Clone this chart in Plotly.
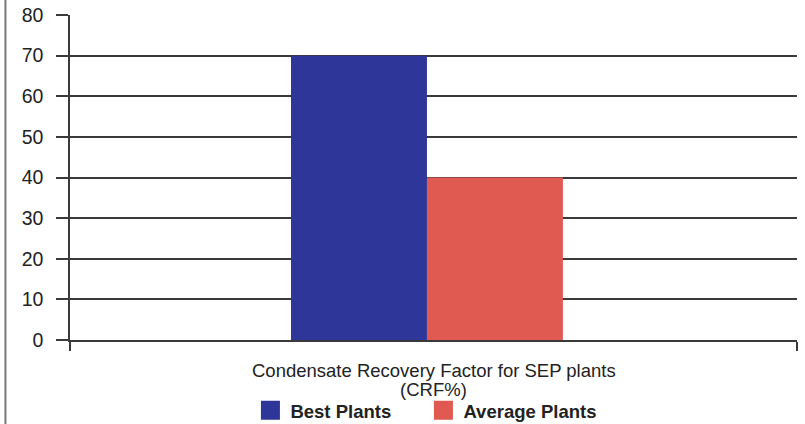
import plotly.graph_objects as go

# Chart data
category = ["Condensate Recovery Factor for SEP plants<br>(CRF%)"]
best_plants = [70]
average_plants = [40]
y_ticks = [0, 10, 20, 30, 40, 50, 60, 70, 80]

BLUE = "#2F3699"
RED = "#E05A52"
LINE = "#3a3a3a"
FONT = "Liberation Sans, Arial, sans-serif"

fig = go.Figure()
fig.add_trace(go.Bar(
    x=category, y=best_plants, name="Best Plants", showlegend=False,
    marker=dict(color=BLUE, line=dict(width=0)),
    width=0.187, offset=-0.196,
))
fig.add_trace(go.Bar(
    x=category, y=average_plants, name="Average Plants", showlegend=False,
    marker=dict(color=RED, line=dict(width=0)),
    width=0.187, offset=-0.009,
))

# Legend entries with larger square swatches (outline in the same colour adds size)
for name, color in [("Best Plants", BLUE), ("Average Plants", RED)]:
    fig.add_trace(go.Scatter(
        x=[None], y=[None], mode="markers", name=name,
        marker=dict(symbol="square", size=16, color=color, line=dict(color=color, width=3)),
    ))

fig.update_layout(
    width=805, height=424,
    margin=dict(l=70, r=8, t=15, b=84, autoexpand=False),
    paper_bgcolor="white", plot_bgcolor="white",
    font=dict(family=FONT, color="#222", size=17),
    showlegend=True,
    legend=dict(
        orientation="h", x=0.526, xanchor="center", xref="container",
        y=0.076, yanchor="top", yref="container", bgcolor="rgba(0,0,0,0)",
        font=dict(size=18.5, color="#222", family=FONT, weight="bold"),
        itemwidth=30, entrywidth=128, traceorder="normal",
        tracegroupgap=0, itemclick=False,
    ),
)

fig.update_xaxes(
    range=[-0.5, 0.5], showgrid=False, showline=True, linecolor=LINE, linewidth=1.5,
    ticks="outside", tickson="boundaries", ticklen=9, tickcolor=LINE, tickwidth=1.5,
    showticklabels=False, fixedrange=True,
)
fig.update_yaxes(
    range=[0, 80], tickvals=y_ticks, showgrid=True, gridcolor=LINE, gridwidth=1.5,
    showline=True, linecolor=LINE, linewidth=1.5, zeroline=False,
    ticks="outside", ticklen=12, tickcolor=LINE, tickwidth=1.5, ticklabelstandoff=9,
    tickfont=dict(size=19.5, color="#222"), fixedrange=True,
)

# Category label, one annotation per line for tight line spacing
for i, line in enumerate(category[0].split("<br>")):
    fig.add_annotation(
        x=category[0], xref="x", y=-0.095 - 0.057 * i, yref="paper",
        text=line, showarrow=False, xanchor="center", yanchor="middle",
        font=dict(size=18.5, color="#222", family=FONT),
    )

# Thin frame line down the left edge of the figure
fig.add_shape(type="line", xref="paper", yref="paper", x0=-0.0888, x1=-0.0888, y0=-0.3, y1=1.1,
              line=dict(color="#777", width=2))

fig.write_html("out.html")
